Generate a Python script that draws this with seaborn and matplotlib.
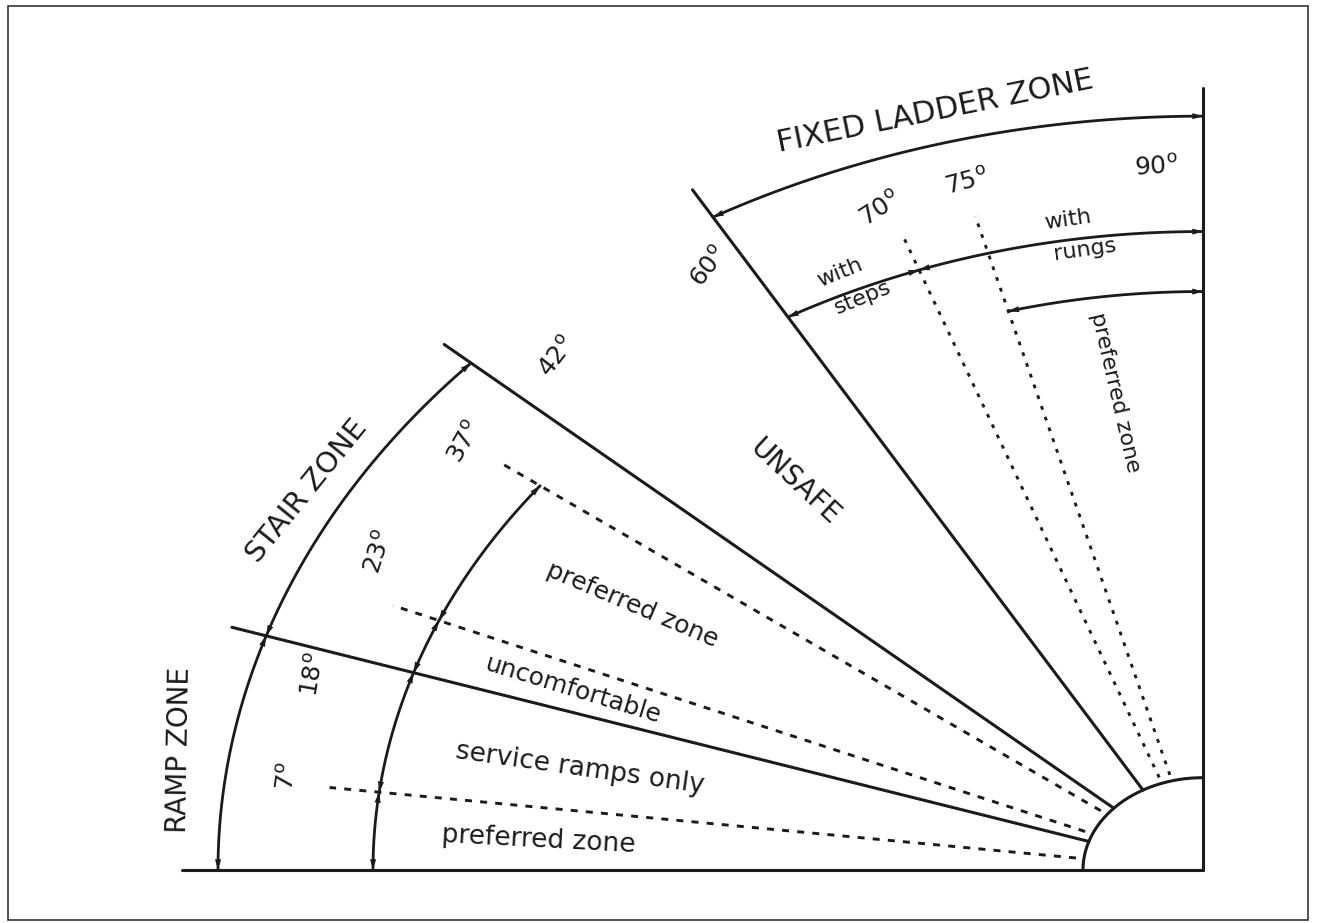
import numpy as np
import pandas as pd
import seaborn as sns
import matplotlib.pyplot as plt
from matplotlib.patches import Rectangle

sns.set_style('white')
plt.rcParams['font.family'] = ['DejaVu Sans']
plt.rcParams['mathtext.fontset'] = 'dejavusans'

# zone boundaries (solid radial lines), degrees
boundary_angles = [0, 18, 42, 60, 90]
# guide lines (dotted), degrees
guide_angles = [7, 23, 37, 70, 75]
# angles that get a label
label_angles = [7, 18, 23, 37, 42, 60, 70, 75, 90]

# dimension arcs: radius, start angle, end angle
arc_radius = [985, 985, 830, 830, 830, 830, 980, 830, 830, 752]
arc_start = [0, 18, 0, 7, 18, 23, 60, 60, 70, 75]
arc_end = [18, 42, 7, 18, 23, 37, 90, 70, 90, 90]

zone_names = ['RAMP ZONE', 'STAIR ZONE', 'UNSAFE', 'FIXED LADDER ZONE']
sub_zone_names = ['preferred zone', 'service ramps only', 'uncomfortable',
                  'preferred zone', 'with', 'steps', 'with', 'rungs',
                  'preferred zone']

# drawing is stretched horizontally, y data units = pixels * YS
YS = 1.3
R_OUT = 1021
R_HUB = 120
R_GUIDE = 880
INK = '#1b1b1b'


def polar(theta, r):
    t = np.radians(theta)
    return -r * np.cos(t), r * np.sin(t)


fig = plt.figure(figsize=(13.17, 9.23), dpi=100)
ax = fig.add_axes([0, 0, 1, 1])
ax.set_xlim(-1203, 1317 - 1203)
ax.set_ylim(-(923 - 870) * YS, 870 * YS)
ax.axis('off')

# solid zone boundaries
for a in boundary_angles:
    r0 = 0 if a in (0, 90) else R_HUB
    x0, y0 = polar(a, r0)
    x1, y1 = polar(a, R_OUT if a != 90 else 1016)
    sns.lineplot(x=[x0, x1], y=[y0, y1], ax=ax, color=INK, lw=2.2,
                 sort=False, estimator=None)

# hub arc
t = np.linspace(0, 90, 60)
hx, hy = polar(t, R_HUB)
sns.lineplot(x=hx, y=hy, ax=ax, color=INK, lw=2.2, sort=False, estimator=None)

# dotted guides
for a in guide_angles:
    x0, y0 = polar(a, R_HUB + 8)
    x1, y1 = polar(a, R_GUIDE)
    ls = (0, (1.3, 2.6)) if a >= 70 else (0, (2.4, 2.8))
    sns.lineplot(x=[x0, x1], y=[y0, y1], ax=ax, color=INK, lw=2.1,
                 linestyle=ls, sort=False, estimator=None)


def arrow_head(theta_end, theta_from, r):
    ax.annotate('', xy=polar(theta_end, r), xytext=polar(theta_from, r),
                arrowprops=dict(arrowstyle='-|>,head_length=0.7,head_width=0.2',
                                color=INK, lw=0, shrinkA=0, shrinkB=0,
                                mutation_scale=11))


# dimension arcs with arrowheads
for r, a0, a1 in zip(arc_radius, arc_start, arc_end):
    t = np.linspace(a0, a1, 120)
    ax_, ay_ = polar(t, r)
    sns.lineplot(x=ax_, y=ay_, ax=ax, color=INK, lw=2.0, sort=False,
                 estimator=None)
    d = np.degrees(12 / r)
    arrow_head(a0, a0 + d, r)
    arrow_head(a1, a1 - d, r)

# angle labels: theta, radius, rotation
ang_pos = {7: (7.5, 923, 82), 18: (15.9, 925, 80), 23: (26.6, 921, 72),
           37: (37.0, 924, 60), 42: (45.9, 928, 52), 60: (57.8, 926, 52),
           70: (69.4, 917, 33), 75: (75.2, 924, 15), 90: (87.1, 915, 4)}
for a in label_angles:
    th, r, rot = ang_pos[a]
    ax.text(*polar(th, r), r'$\mathregular{%d^{o}}$' % a, fontsize=18,
            rotation=rot, rotation_mode='anchor', ha='center', va='center',
            color=INK)

# zone names: theta, radius, rotation, size
zone_pos = [(8.7, 1035, 89, 20), (28.8, 1023, 51, 21), (51.0, 649, -43, 20),
            (74.8, 1022, 11.5, 22)]
for name, (th, r, rot, fs) in zip(zone_names, zone_pos):
    ax.text(*polar(th, r), name, fontsize=fs, rotation=rot,
            rotation_mode='anchor', ha='center', va='center', color=INK)

sub_pos = [(3.4, 666, -3, 19), (12.0, 637, -8, 19), (20.4, 672, -17, 18),
           (31.1, 666, -23, 18), (64.9, 857, 22, 16), (65.4, 818, 22, 16),
           (80.9, 856, 8, 16), (81.7, 815, 8, 16), (81.9, 627, -77, 16)]
for name, (th, r, rot, fs) in zip(sub_zone_names, sub_pos):
    ax.text(*polar(th, r), name, fontsize=fs, rotation=rot,
            rotation_mode='anchor', ha='center', va='center', color=INK)

# page frame
fig.patches.append(Rectangle((8 / 1317, 3 / 923), 1300 / 1317, 914 / 923,
                             transform=fig.transFigure, fill=False,
                             edgecolor='#333333', lw=1.2))

fig.savefig('out.png', dpi=100)
